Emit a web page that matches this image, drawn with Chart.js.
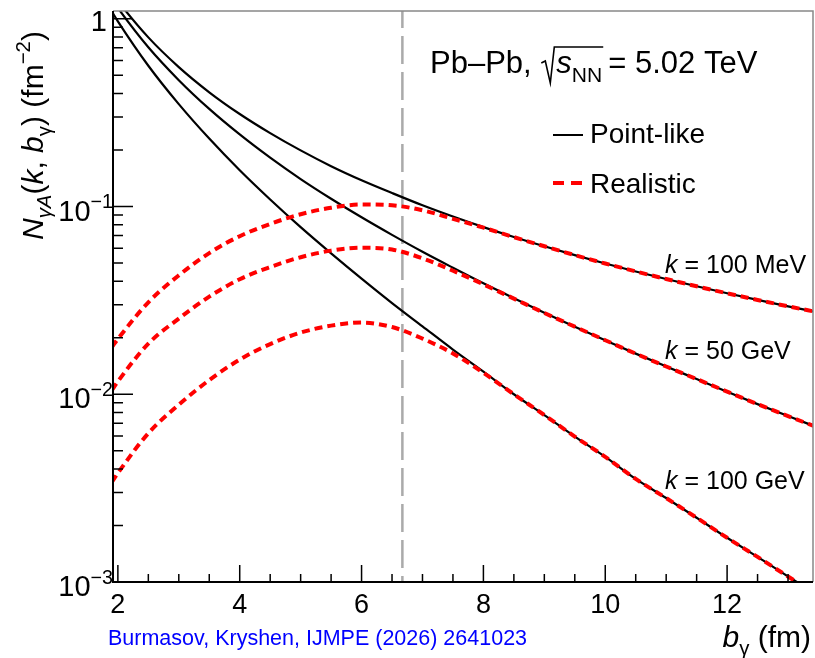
<!DOCTYPE html>
<html>
<head>
<meta charset="utf-8">
<script src="https://cdn.jsdelivr.net/npm/chart.js@4.4.1/dist/chart.umd.min.js"></script>
<style>
  html, body { margin: 0; padding: 0; background: #fff; }
  #wrap { width: 815px; height: 658px; }
</style>
</head>
<body>
<div id="wrap"><canvas id="flux"></canvas></div>
<script>
// impact parameter b_gamma (fm)
var bGrid = [1.9, 2, 2.5, 3, 3.5, 4, 4.5, 5, 5.5, 6, 6.5, 7, 7.5, 8, 8.5, 9, 9.5, 10, 10.5, 11, 11.5, 12, 12.5, 13, 13.5];

// point-like flux (fm^-2)
var point100MeV = [1.378, 1.243, 0.796, 0.553, 0.406, 0.311, 0.246, 0.199, 0.164, 0.138, 0.118, 0.1015, 0.0884, 0.0777, 0.0688, 0.0614, 0.0551, 0.0497, 0.0451, 0.0411, 0.0376, 0.0345, 0.0318, 0.0294, 0.0273];
var point50GeV = [1.272, 1.141, 0.705, 0.471, 0.331, 0.242, 0.182, 0.140, 0.110, 0.0876, 0.0706, 0.0574, 0.0472, 0.0390, 0.0325, 0.0272, 0.0229, 0.0194, 0.01646, 0.01406, 0.01205, 0.01032, 0.00886, 0.00765, 0.00663];
var point100GeV = [1.094, 0.969, 0.562, 0.351, 0.230, 0.156, 0.109, 0.0776, 0.0563, 0.0413, 0.0306, 0.0230, 0.0173, 0.0132, 0.0100, 0.00775, 0.00595, 0.00464, 0.00354, 0.0028, 0.0022, 0.00172, 0.00136, 0.00107, 0.00085];

// realistic flux (fm^-2)
var real100MeV = [0.0178, 0.0197, 0.0309, 0.043, 0.0565, 0.0695, 0.0808, 0.091, 0.0985, 0.1025, 0.1015, 0.0955, 0.086, 0.0772, 0.0687, 0.0614, 0.0551, 0.0497, 0.0451, 0.0411, 0.0376, 0.0345, 0.0318, 0.0294, 0.0273];
var real50GeV = [0.0105, 0.0117, 0.0186, 0.0253, 0.0331, 0.041, 0.0476, 0.0537, 0.0582, 0.0603, 0.0590, 0.0530, 0.0455, 0.0385, 0.0323, 0.0271, 0.0229, 0.0194, 0.01646, 0.01406, 0.01205, 0.01032, 0.00886, 0.00765, 0.00663];
var real100GeV = [0.0034, 0.0038, 0.0062, 0.0088, 0.0119, 0.0153, 0.0185, 0.0213, 0.0232, 0.0241, 0.0228, 0.0198, 0.0165, 0.0130, 0.0100, 0.00775, 0.00595, 0.00464, 0.00354, 0.0028, 0.0022, 0.00172, 0.00136, 0.00107, 0.00085];

// nuclear diameter marker
var bMarker = 6.67;

var xMin = 1.92, xMax = 13.41;
var yMin = 0.001, yMax = 1.1;
var xTickLabels = [2, 4, 6, 8, 10, 12];
var yTickLabels = [[1, '1', ''], [0.1, '10', '\u22121'], [0.01, '10', '\u22122'], [0.001, '10', '\u22123']];

var curveLabels = [['100 MeV', 273], ['50 GeV', 359], ['100 GeV', 489]];

var FONT = '"Liberation Sans", Arial, sans-serif';

function toPoints(vals) {
  return bGrid.map(function(b, i) { return {x: b, y: vals[i]}; });
}

function curve(vals, isReal) {
  return {
    data: toPoints(vals),
    borderColor: isReal ? '#ff0000' : '#000000',
    borderWidth: isReal ? 4 : 2.2,
    borderDash: isReal ? [8, 5] : [],
    pointRadius: 0,
    cubicInterpolationMode: 'monotone',
    fill: false,
    order: isReal ? 0 : 1
  };
}

// rich text: parts {t, i (italic), sub, sup}
function richWidth(ctx, parts, size) {
  var w = 0;
  parts.forEach(function(p) {
    var s = (p.sub || p.sup) ? size * 0.68 : size;
    ctx.font = (p.i ? 'italic ' : '') + s + 'px ' + FONT;
    w += ctx.measureText(p.t).width;
  });
  return w;
}
function drawRich(ctx, x, y, parts, size) {
  parts.forEach(function(p) {
    var s = (p.sub || p.sup) ? size * 0.68 : size;
    var dy = p.sub ? size * 0.28 : (p.sup ? -size * 0.42 : 0);
    ctx.font = (p.i ? 'italic ' : '') + s + 'px ' + FONT;
    ctx.fillText(p.t, x, y + dy);
    x += ctx.measureText(p.t).width;
  });
  return x;
}

var overlay = {
  id: 'overlay',
  afterDraw: function(chart) {
    var ctx = chart.ctx, a = chart.chartArea;
    var xs = chart.scales.x, ys = chart.scales.y;
    ctx.save();

    // frame
    ctx.strokeStyle = '#888888';
    ctx.lineWidth = 1.5;
    ctx.beginPath();
    ctx.moveTo(a.left, a.top); ctx.lineTo(a.right, a.top); ctx.lineTo(a.right, a.bottom);
    ctx.stroke();
    ctx.strokeStyle = '#000000';
    ctx.lineWidth = 2;
    ctx.beginPath();
    ctx.moveTo(a.left, a.top); ctx.lineTo(a.left, a.bottom); ctx.lineTo(a.right, a.bottom);
    ctx.stroke();

    // x ticks (inward)
    ctx.lineWidth = 1.5;
    ctx.beginPath();
    for (var v = 2; v <= xMax; v += 0.5) {
      var px = xs.getPixelForValue(v);
      var len = (v % 2 === 0) ? 17 : 8;
      ctx.moveTo(px, a.bottom); ctx.lineTo(px, a.bottom - len);
    }
    // y ticks (inward, log)
    for (var d = -3; d <= 0; d++) {
      for (var m = 1; m <= 9; m++) {
        var val = m * Math.pow(10, d);
        if (val > yMax) break;
        var py = ys.getPixelForValue(val);
        var l = (m === 1) ? 20 : 10;
        ctx.moveTo(a.left, py); ctx.lineTo(a.left + l, py);
      }
    }
    ctx.stroke();

    ctx.fillStyle = '#000000';
    // x tick labels
    ctx.font = '27px ' + FONT;
    ctx.textAlign = 'center';
    ctx.textBaseline = 'alphabetic';
    xTickLabels.forEach(function(t) {
      ctx.fillText(String(t), xs.getPixelForValue(t), 613);
    });

    // y tick labels
    ctx.textAlign = 'left';
    yTickLabels.forEach(function(t) {
      var py = ys.getPixelForValue(t[0]);
      var parts = [{t: t[1]}];
      if (t[2]) parts.push({t: t[2], sup: true});
      var size = 29;
      var w = richWidth(ctx, parts, size);
      var right = t[2] ? 113 : 107;
      var base = t[2] ? py + 14 : 31;
      drawRich(ctx, right - w, base, parts, size);
    });

    // y axis title
    ctx.save();
    ctx.translate(43, 240);
    ctx.rotate(-Math.PI / 2);
    drawRich(ctx, 0, 0, [
      {t: 'N', i: true}, {t: '\u03b3A', i: true, sub: true},
      {t: '('}, {t: 'k', i: true}, {t: ', '}, {t: 'b', i: true}, {t: '\u03b3', sub: true},
      {t: ') (fm'}, {t: '\u22122', sup: true}, {t: ')'}
    ], 30);
    ctx.restore();

    // x axis title
    var xt = [{t: 'b', i: true}, {t: '\u03b3', sub: true}, {t: ' (fm)'}];
    drawRich(ctx, 811 - richWidth(ctx, xt, 30), 647, xt, 30);

    // citation
    ctx.fillStyle = '#0000ff';
    ctx.font = '21.5px ' + FONT;
    ctx.fillText('Burmasov, Kryshen, IJMPE (2026) 2641023', 108, 645);

    // system label with square root
    ctx.fillStyle = '#000000';
    var sz = 31;
    var x0 = 430, base = 73;
    var xA = drawRich(ctx, x0, base, [{t: 'Pb\u2013Pb, '}], sz);
    var rStart = xA + 1;
    var xs0 = rStart + 15;
    var xB = drawRich(ctx, xs0, base, [{t: 's', i: true}, {t: 'NN', sub: true}], sz);
    ctx.strokeStyle = '#000000';
    ctx.lineWidth = 1.6;
    ctx.beginPath();
    ctx.moveTo(rStart, base - 10);
    ctx.lineTo(rStart + 4, base - 12);
    ctx.lineTo(rStart + 9, base + 10);
    ctx.lineTo(rStart + 13, base - 26);
    ctx.lineTo(xB + 1, base - 26);
    ctx.stroke();
    drawRich(ctx, xB + 6, base, [{t: '= 5.02 TeV'}], sz);

    // legend
    ctx.lineWidth = 2;
    ctx.strokeStyle = '#000000';
    ctx.beginPath(); ctx.moveTo(553, 135); ctx.lineTo(583, 135); ctx.stroke();
    ctx.strokeStyle = '#ff0000';
    ctx.lineWidth = 4;
    ctx.beginPath();
    ctx.moveTo(553, 183); ctx.lineTo(564, 183);
    ctx.moveTo(571, 183); ctx.lineTo(582, 183);
    ctx.stroke();
    ctx.fillStyle = '#000000';
    ctx.font = '28px ' + FONT;
    ctx.fillText('Point-like', 590, 143);
    ctx.fillText('Realistic', 590, 193);

    // curve labels
    curveLabels.forEach(function(c) {
      drawRich(ctx, 665, c[1], [{t: 'k', i: true}, {t: ' = ' + c[0]}], 25);
    });

    ctx.restore();
  }
};

new Chart(document.getElementById('flux'), {
  type: 'line',
  data: {
    datasets: [
      curve(real100MeV, true),
      curve(real50GeV, true),
      curve(real100GeV, true),
      curve(point100MeV, false),
      curve(point50GeV, false),
      curve(point100GeV, false),
      {
        data: [{x: bMarker, y: yMax}, {x: bMarker, y: yMin}],
        borderColor: '#aaaaaa',
        borderWidth: 2.5,
        borderDash: [28, 8],
        borderDashOffset: 11,
        pointRadius: 0,
        fill: false,
        order: 2
      }
    ]
  },
  options: {
    responsive: true,
    maintainAspectRatio: false,
    animation: false,
    layout: { padding: { left: 113, top: 11, right: 2, bottom: 76 } },
    plugins: { legend: { display: false }, tooltip: { enabled: false } },
    scales: {
      x: { type: 'linear', min: xMin, max: xMax, display: false },
      y: { type: 'logarithmic', min: yMin, max: yMax, display: false }
    }
  },
  plugins: [overlay]
});
</script>
</body>
</html>
